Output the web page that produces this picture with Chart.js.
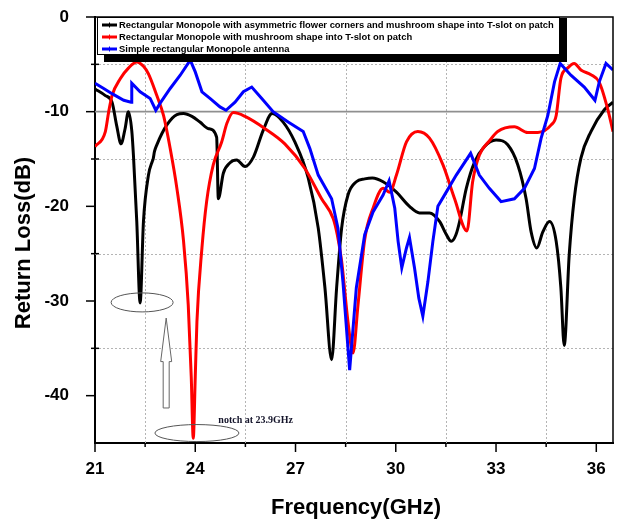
<!DOCTYPE html>
<html>
<head>
<meta charset="utf-8">
<script src="https://cdn.jsdelivr.net/npm/chart.js@4/dist/chart.umd.min.js"></script>
<style>
  html, body { margin: 0; padding: 0; background: #ffffff; }
  #wrap { width: 617px; height: 520px; }
</style>
</head>
<body>
<div id="wrap"><canvas id="c" width="617" height="520"></canvas></div>
<script>
// Series labels
const seriesNames = [
  'Rectangular Monopole with asymmetric flower corners and mushroom shape into T-slot on patch',
  'Rectangular Monopole with mushroom shape into T-slot on patch',
  'Simple rectangular Monopole antenna'
];

// Flower corners + mushroom T-slot (black)
const blackFreq = [21.0, 21.31, 21.51, 21.65, 21.78, 21.9, 22.0, 22.1, 22.15, 22.25, 22.35, 22.45, 22.6, 22.72, 22.74, 22.78, 22.85, 23.15, 23.45, 23.65, 23.9, 24.14, 24.4, 24.64, 24.69, 24.84, 25.04, 25.24, 25.49, 25.74, 26.03, 26.3, 26.63, 26.98, 27.38, 27.68, 27.88, 28.08, 28.23, 28.38, 28.57, 28.82, 29.07, 29.3, 29.62, 30.02, 30.41, 30.71, 31.01, 31.31, 31.5, 31.66, 31.8, 31.91, 32.11, 32.36, 32.65, 33.0, 33.35, 33.65, 33.9, 34.05, 34.22, 34.4, 34.6, 34.8, 34.94, 35.04, 35.19, 35.34, 35.54, 35.84, 36.24, 36.5];
const blackLoss = [-7.6, -8.3, -9.0, -11.5, -13.4, -11.8, -10.0, -12.0, -14.6, -21.6, -30.2, -21.6, -16.7, -15.2, -15.0, -14.2, -13.5, -11.4, -10.3, -10.2, -10.5, -11.1, -11.8, -12.7, -19.2, -16.5, -15.4, -15.1, -15.8, -14.8, -12.0, -10.2, -11.1, -13.2, -17.0, -22.3, -28.6, -36.2, -28.6, -22.3, -18.8, -17.4, -17.1, -17.0, -17.4, -18.5, -20.0, -20.7, -20.7, -21.6, -22.9, -23.7, -23.0, -21.6, -18.1, -15.3, -13.7, -13.0, -13.5, -15.6, -19.2, -22.7, -24.4, -22.7, -21.6, -23.7, -28.6, -34.7, -25.1, -19.2, -14.9, -12.1, -9.8, -9.0];

// Mushroom T-slot (red)
const redFreq = [21.0, 21.31, 21.41, 21.51, 21.76, 22.0, 22.25, 22.45, 22.6, 22.85, 23.05, 23.25, 23.45, 23.65, 23.79, 23.88, 23.94, 24.0, 24.05, 24.2, 24.34, 24.54, 24.79, 24.95, 25.14, 25.49, 26.09, 26.68, 27.28, 27.78, 28.13, 28.25, 28.38, 28.57, 28.72, 28.87, 29.07, 29.32, 29.62, 29.82, 30.02, 30.32, 30.66, 31.01, 31.41, 31.76, 32.13, 32.3, 32.5, 32.8, 33.05, 33.55, 33.95, 34.25, 34.65, 34.8, 34.94, 35.14, 35.34, 35.54, 35.84, 36.09, 36.34, 36.5];
const redLoss = [-13.7, -12.1, -10.0, -8.3, -6.5, -5.4, -4.75, -5.2, -6.0, -8.3, -10.4, -13.9, -18.1, -23.7, -30.4, -38.0, -44.5, -38.0, -32.2, -24.4, -19.5, -15.6, -13.2, -11.2, -10.1, -10.5, -11.8, -13.4, -16.0, -19.2, -21.3, -23.0, -25.8, -32.2, -35.5, -30.4, -23.5, -20.2, -18.1, -18.5, -16.7, -13.2, -12.1, -12.8, -15.6, -19.2, -22.6, -17.4, -14.6, -13.1, -12.1, -11.6, -12.2, -12.2, -11.4, -10.4, -6.5, -5.4, -4.9, -5.6, -6.1, -6.9, -9.7, -12.1];

// Simple rectangular monopole (blue)
const blueFreq = [21.0, 21.26, 21.51, 21.86, 22.08, 22.1, 22.35, 22.65, 22.82, 22.95, 23.25, 23.55, 23.85, 24.0, 24.2, 24.44, 24.74, 24.92, 25.19, 25.44, 25.69, 25.99, 26.33, 26.78, 27.23, 27.43, 27.68, 28.08, 28.27, 28.42, 28.62, 28.82, 29.07, 29.32, 29.62, 29.8, 29.97, 30.07, 30.18, 30.32, 30.41, 30.56, 30.69, 30.81, 30.96, 31.11, 31.26, 31.51, 31.81, 32.24, 32.5, 32.8, 33.15, 33.55, 33.85, 34.15, 34.35, 34.55, 34.75, 34.92, 35.24, 35.64, 35.96, 36.09, 36.29, 36.5];
const blueLoss = [-7.0, -7.55, -8.1, -8.8, -9.0, -7.0, -7.9, -8.6, -9.85, -9.1, -7.55, -6.15, -4.55, -5.8, -7.9, -8.6, -9.5, -9.85, -9.0, -7.9, -7.4, -8.6, -10.0, -11.1, -12.1, -13.9, -16.7, -19.2, -22.3, -28.0, -37.3, -28.6, -23.0, -20.6, -18.8, -17.3, -20.2, -23.7, -26.5, -24.4, -23.3, -26.5, -29.7, -31.6, -28.0, -23.7, -20.0, -18.5, -16.7, -14.4, -16.7, -18.1, -19.5, -19.2, -18.1, -16.0, -12.8, -10.4, -6.85, -4.9, -6.15, -7.4, -8.8, -6.85, -4.9, -5.6];

// Axis ticks
const xTickLabels = [21, 24, 27, 30, 33, 36];
const xMinorTicks = [22.5, 25.5, 28.5, 31.5, 34.5];
const yTickLabels = [0, -10, -20, -30, -40];
const yMinorTicks = [-5, -15, -25, -35];
const refLevel = -10;

// Annotation text
const notchNote = 'notch at 23.9GHz';

const toPoints = (xs, ys) => xs.map((x, i) => ({ x: x, y: ys[i] }));

const SANS = '"Liberation Sans", Arial, sans-serif';
const SERIF = '"Liberation Serif", "Times New Roman", serif';

const decorPlugin = {
  id: 'decor',
  beforeDatasetsDraw(chart) {
    const { ctx, chartArea: ca, scales: { x, y } } = chart;
    ctx.save();
    ctx.beginPath();
    ctx.rect(ca.left, ca.top, ca.right - ca.left, ca.bottom - ca.top);
    ctx.clip();
    // dotted grid at the minor positions
    ctx.strokeStyle = '#b4b4b4';
    ctx.lineWidth = 1;
    ctx.setLineDash([2, 2]);
    xMinorTicks.forEach(v => {
      const px = Math.round(x.getPixelForValue(v)) + 0.5;
      ctx.beginPath(); ctx.moveTo(px, ca.top); ctx.lineTo(px, ca.bottom); ctx.stroke();
    });
    yMinorTicks.forEach(v => {
      const py = Math.round(y.getPixelForValue(v)) + 0.5;
      ctx.beginPath(); ctx.moveTo(ca.left, py); ctx.lineTo(ca.right, py); ctx.stroke();
    });
    // -10 dB reference line
    ctx.setLineDash([]);
    ctx.strokeStyle = '#8f8f8f';
    ctx.lineWidth = 1.6;
    const ry = y.getPixelForValue(refLevel);
    ctx.beginPath(); ctx.moveTo(ca.left, ry); ctx.lineTo(ca.right, ry); ctx.stroke();
    ctx.restore();
  },
  afterDatasetsDraw(chart) {
    const { ctx, chartArea: ca, scales: { x, y } } = chart;
    ctx.save();
    // frame top / right
    ctx.strokeStyle = '#000';
    ctx.lineWidth = 1.5;
    ctx.beginPath();
    ctx.moveTo(ca.left, ca.top); ctx.lineTo(ca.right, ca.top); ctx.lineTo(ca.right, ca.bottom);
    ctx.stroke();

    // tick marks
    ctx.lineWidth = 1.5;
    xTickLabels.forEach(v => {
      const px = x.getPixelForValue(v);
      ctx.beginPath(); ctx.moveTo(px, ca.bottom); ctx.lineTo(px, ca.bottom + 9); ctx.stroke();
    });
    xMinorTicks.forEach(v => {
      const px = x.getPixelForValue(v);
      ctx.beginPath(); ctx.moveTo(px, ca.bottom); ctx.lineTo(px, ca.bottom + 4); ctx.stroke();
    });
    yTickLabels.forEach(v => {
      const py = y.getPixelForValue(v);
      ctx.beginPath(); ctx.moveTo(ca.left - 9, py); ctx.lineTo(ca.left, py); ctx.stroke();
    });
    yMinorTicks.forEach(v => {
      const py = y.getPixelForValue(v);
      ctx.beginPath(); ctx.moveTo(ca.left - 4, py); ctx.lineTo(ca.left + 4, py); ctx.stroke();
    });

    // ellipse around the first black resonance
    ctx.strokeStyle = '#555';
    ctx.lineWidth = 1;
    ctx.beginPath();
    ctx.ellipse(x.getPixelForValue(22.41), y.getPixelForValue(-30.15), 31, 9.5, 0, 0, Math.PI * 2);
    ctx.stroke();
    // ellipse around the red notch
    ctx.beginPath();
    ctx.ellipse(x.getPixelForValue(24.05), y.getPixelForValue(-43.95), 42, 8.5, 0, 0, Math.PI * 2);
    ctx.stroke();

    // hollow upward arrow
    const ax = x.getPixelForValue(23.13);
    const tipY = y.getPixelForValue(-31.8);
    const headY = y.getPixelForValue(-36.4);
    const baseY = y.getPixelForValue(-41.3);
    ctx.strokeStyle = '#666';
    ctx.fillStyle = '#fff';
    ctx.beginPath();
    ctx.moveTo(ax, tipY);
    ctx.lineTo(ax + 5.5, headY);
    ctx.lineTo(ax + 3, headY);
    ctx.lineTo(ax + 3, baseY);
    ctx.lineTo(ax - 3, baseY);
    ctx.lineTo(ax - 3, headY);
    ctx.lineTo(ax - 5.5, headY);
    ctx.closePath();
    ctx.fill();
    ctx.stroke();

    // notch note
    ctx.fillStyle = '#14142a';
    ctx.font = 'bold 10px ' + SERIF;
    ctx.textAlign = 'left';
    ctx.textBaseline = 'alphabetic';
    ctx.fillText(notchNote, x.getPixelForValue(24.69), y.getPixelForValue(-42.9));

    // legend box with drop shadow
    const lx = ca.left + 2, ly = ca.top, lw = 463, lh = 38, sh = 7;
    ctx.fillStyle = '#000';
    ctx.fillRect(lx + sh, ly + lh, lw, sh);
    ctx.fillRect(lx + lw, ly + 1, sh, lh + sh - 1);
    ctx.fillStyle = '#fff';
    ctx.fillRect(lx, ly, lw, lh);
    ctx.strokeStyle = '#000';
    ctx.lineWidth = 1;
    ctx.strokeRect(lx + 0.5, ly + 0.5, lw - 1, lh - 1);

    ctx.font = 'bold 10px ' + SANS;
    const fit = 10 * 435 / ctx.measureText(seriesNames[0]).width;
    ctx.font = 'bold ' + fit.toFixed(2) + 'px ' + SANS;
    ctx.textBaseline = 'middle';
    chart.data.datasets.forEach((ds, i) => {
      const rowY = ly + 8 + i * 12;
      ctx.strokeStyle = ds.borderColor;
      ctx.lineWidth = 3;
      ctx.beginPath(); ctx.moveTo(lx + 5, rowY); ctx.lineTo(lx + 20, rowY); ctx.stroke();
      ctx.lineWidth = 1;
      ctx.beginPath(); ctx.moveTo(lx + 12.5, rowY - 2.5); ctx.lineTo(lx + 12.5, rowY + 2.5); ctx.stroke();
      ctx.fillStyle = '#000';
      ctx.fillText(ds.label, lx + 22, rowY);
    });
    ctx.restore();
  },
  afterDraw(chart) {
    const { ctx, chartArea: ca } = chart;
    ctx.save();
    ctx.fillStyle = '#000';
    ctx.font = 'bold 22px ' + SANS;
    ctx.textAlign = 'center';
    ctx.textBaseline = 'middle';
    ctx.fillText('Frequency(GHz)', (ca.left + ca.right) / 2 + 2, 508);
    ctx.translate(24, 243);
    ctx.rotate(-Math.PI / 2);
    ctx.fillText('Return Loss(dB)', 0, 0);
    ctx.restore();
  }
};

const lineStyle = (color) => ({
  borderColor: color,
  backgroundColor: color,
  borderWidth: 3,
  pointRadius: 0,
  fill: false,
  showLine: true
});

new Chart(document.getElementById('c'), {
  type: 'line',
  data: {
    datasets: [
      Object.assign({ label: seriesNames[0], data: toPoints(blackFreq, blackLoss), order: 2, cubicInterpolationMode: 'monotone' }, lineStyle('#000000')),
      Object.assign({ label: seriesNames[1], data: toPoints(redFreq, redLoss), order: 1, cubicInterpolationMode: 'monotone' }, lineStyle('#ff0000')),
      Object.assign({ label: seriesNames[2], data: toPoints(blueFreq, blueLoss), order: 0, tension: 0 }, lineStyle('#0000ff'))
    ]
  },
  options: {
    responsive: false,
    devicePixelRatio: 1,
    animation: false,
    layout: { padding: { top: 17, right: 4, left: 0, bottom: 0 } },
    plugins: { legend: { display: false }, tooltip: { enabled: false } },
    scales: {
      x: {
        type: 'linear',
        min: 21,
        max: 36.5,
        grid: { display: false },
        border: { display: true, color: '#000', width: 2 },
        afterBuildTicks: (s) => { s.ticks = xTickLabels.map(v => ({ value: v })); },
        afterFit: (s) => { s.height = 77; s.paddingLeft = 0; s.paddingRight = 0; },
        ticks: {
          padding: 8,
          color: '#000',
          font: { family: SANS, size: 17, weight: 'bold' },
          maxRotation: 0,
          autoSkip: false,
          callback: (v) => String(v)
        }
      },
      y: {
        type: 'linear',
        min: -45,
        max: 0,
        grid: { display: false },
        border: { display: true, color: '#000', width: 2 },
        afterBuildTicks: (s) => { s.ticks = yTickLabels.map(v => ({ value: v })); },
        afterFit: (s) => { s.width = 95; s.paddingTop = 0; s.paddingBottom = 0; },
        ticks: {
          padding: 18,
          color: '#000',
          font: { family: SANS, size: 17, weight: 'bold' },
          autoSkip: false,
          callback: (v) => String(v)
        }
      }
    }
  },
  plugins: [decorPlugin]
});
</script>
</body>
</html>
